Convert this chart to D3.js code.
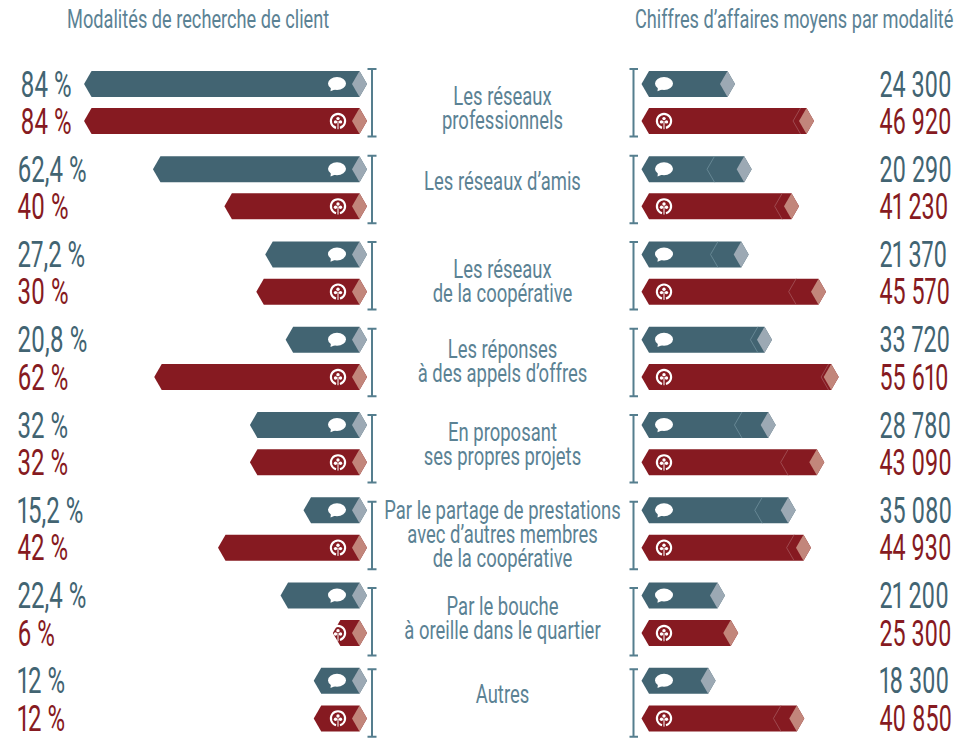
<!DOCTYPE html>
<html lang="fr">
<head>
<meta charset="utf-8">
<script src="https://cdn.jsdelivr.net/npm/d3@7"></script>
<style>
html,body{margin:0;padding:0;background:#fff;}
svg{display:block;}
text{font-family:Roboto,sans-serif;font-weight:400;font-variant-numeric:proportional-nums;}
</style>
</head>
<body>
<svg id="chart" width="973" height="738"></svg>
<script>
// ---------- data ----------
const titles = ["Modalités de recherche de client", "Chiffres d’affaires moyens par modalité"];
const categories = [
  ["Les réseaux", "professionnels"],
  ["Les réseaux d’amis"],
  ["Les réseaux", "de la coopérative"],
  ["Les réponses", "à des appels d’offres"],
  ["En proposant", "ses propres projets"],
  ["Par le partage de prestations", "avec d’autres membres", "de la coopérative"],
  ["Par le bouche", "à oreille dans le quartier"],
  ["Autres"]
];
const shareTeal = [84, 62.4, 27.2, 20.8, 32, 15.2, 22.4, 12];
const shareRed  = [84, 40, 30, 62, 32, 42, 6, 12];
const revenueTeal = [24300, 20290, 21370, 33720, 28780, 35080, 21200, 18300];
const revenueRed  = [46920, 41230, 45570, 55610, 43090, 44930, 25300, 40850];
// far end of each revenue bar
const reachTeal = [24300, 29470, 28540, 35760, 36900, 43100, 21200, 18300];
const reachRed  = [48760, 44120, 52480, 56410, 51950, 47830, 25300, 45760];

// ---------- layout ----------
const C = {teal:"#426472", red:"#861a21", tealD:"#9ca9b4", redD:"#c2867b",
           tealC:"#6f8f9c", redC:"#a5565b", soft:"#5b8294", bracket:"#557e8e"};
const barH = 26, dia = 15, half = dia/2;
const bracketShift = [-2, -0.5, 0.5, 2, 3, 4.5, 5.5, 1.5];
const labelCentre  = [38, 26, 40.5, 35, 33, 38, 36.5, 27];
const shareIndent  = [3, 0, 0, 0, 0, 0, 0, 0];
const rowIdx = d3.range(categories.length);
const yTeal = d3.scaleLinear().domain([0,7]).range([71,667.75]);
const yRed  = d3.scaleLinear().domain([0,7]).range([108,705.4]);
const xLeft  = d3.scaleLinear().domain([0,100]).range([352,33]);
const xRight = d3.scaleLinear().domain([0,100000]).range([641.5,964.5]);

const FS = {title:{size:26,k:0.70}, cat:{size:26,k:0.71},
            share:{size:37,k:0.65}, rev:{size:37,k:0.63}};
const svg = d3.select("#chart");
const line = d3.line();

function put(g, str, x, y, style, fill, anchor){
  return g.append("text")
    .attr("transform", `translate(${x},${y}) scale(${style.k},1)`)
    .attr("text-anchor", anchor||"start")
    .attr("font-size", style.size)
    .attr("fill", fill)
    .text(str);
}

// titles
put(svg, titles[0], 67, 27.5, FS.title, C.soft);
put(svg, titles[1], 635, 27.5, FS.title, C.soft);

// ---------- bars ----------
function leftRows(){
  const out=[];
  rowIdx.forEach(i=>{
    out.push({i,v:shareTeal[i],top:yTeal(i),col:C.teal,dc:C.tealD,icon:"bubble",lab:String(shareTeal[i]).replace(".",",")+" %"});
    out.push({i,v:shareRed[i],top:yRed(i),col:C.red,dc:C.redD,icon:"tree",lab:String(shareRed[i]).replace(".",",")+" %"});
  });
  return out;
}
function rightRows(){
  const fmt = v => String(Math.floor(v/1000))+" "+String(v%1000).padStart(3,"0");
  const out=[];
  rowIdx.forEach(i=>{
    out.push({i,v:revenueTeal[i],r:reachTeal[i],top:yTeal(i),col:C.teal,dc:C.tealD,cc:C.tealC,icon:"bubble",lab:fmt(revenueTeal[i])});
    out.push({i,v:revenueRed[i],r:reachRed[i],top:yRed(i),col:C.red,dc:C.redD,cc:C.redC,icon:"tree",lab:fmt(revenueRed[i])});
  });
  return out;
}

const ringArc = d3.arc().innerRadius(6.1).outerRadius(8.2).startAngle(Math.PI+0.28).endAngle(3*Math.PI-0.28);
function icon(g, kind, cx, cy){
  const n = g.append("g").attr("transform",`translate(${cx},${cy})`).attr("fill","#fff");
  if(kind==="bubble"){
    n.append("ellipse").attr("rx",9).attr("ry",6.5);
    n.append("path").attr("d",line([[-6,3],[-6.5,7.8],[-1,5.5]]));
  } else {
    n.append("path").attr("d",ringArc());
    [[0,-2.4],[-2.5,0.9],[2.5,0.9]].forEach(p=>n.append("circle").attr("cx",p[0]).attr("cy",p[1]).attr("r",1.7));
    n.append("rect").attr("x",-0.5).attr("y",0).attr("width",1).attr("height",8.2);
  }
}
function hexPath(xa,tip,top){ // xa: pointed end on the left, tip: pointed end on the right
  const b=top+barH, m=top+barH/2;
  return line([[xa,m],[xa+half,top],[tip-half,top],[tip,m],[tip-half,b],[xa+half,b]])+"Z";
}
function diamond(tip,top){
  const b=top+barH, m=top+barH/2;
  return line([[tip-dia,m],[tip-half,top],[tip,m],[tip-half,b]])+"Z";
}

const left = svg.append("g");
left.selectAll("g").data(leftRows()).join("g").each(function(d){
  const g=d3.select(this), tip=xLeft(0)+dia, xa=xLeft(d.v);
  g.append("path").attr("d",hexPath(xa,tip,d.top)).attr("fill",d.col);
  g.append("path").attr("d",diamond(tip,d.top)).attr("fill",d.dc);
  icon(g,d.icon,d.icon==="tree"?338:337,d.top+(d.icon==="tree"?13:12.5));
  put(g,d.lab,17.5+shareIndent[d.i],d.top+25.5,FS.share,d.col);
});

const right = svg.append("g");
right.selectAll("g").data(rightRows()).join("g").each(function(d){
  const g=d3.select(this), tip=xRight(d.r)+dia, xa=xRight(0);
  g.append("path").attr("d",hexPath(xa,tip,d.top)).attr("fill",d.col);
  if(d.r>d.v){
    const c=xRight(d.v);
    g.append("path").attr("d",line([[c+half,d.top],[c,d.top+barH/2],[c+half,d.top+barH]]))
      .attr("fill","none").attr("stroke",d.cc).attr("stroke-width",0.8);
  }
  g.append("path").attr("d",diamond(tip,d.top)).attr("fill",d.dc);
  icon(g,d.icon,664,d.top+(d.icon==="tree"?13:12.5));
  put(g,d.lab,879.5,d.top+25.5,FS.rev,d.col);
});

// ---------- brackets ----------
const brLen = 67.5;
[[372,367.5,376.5],[633.5,629.5,638]].forEach(([x,a,b])=>{
  svg.append("g").selectAll("path").data(rowIdx).join("path")
    .attr("d",i=>{
      const t=yTeal(i)+bracketShift[i];
      return `M${a},${t}H${b}M${x},${t}V${t+brLen}M${a},${t+brLen}H${b}`;
    })
    .attr("fill","none").attr("stroke",C.bracket).attr("stroke-width",2);
});

// ---------- category labels ----------
const lh = 24.2;
svg.append("g").selectAll("g").data(categories).join("g").each(function(lines,i){
  const g=d3.select(this), c=yTeal(i)+labelCentre[i];
  lines.forEach((s,j)=>{
    put(g,s,502.5,c+(j-(lines.length-1)/2)*lh+8,FS.cat,C.soft,"middle");
  });
});
</script>
</body>
</html>
